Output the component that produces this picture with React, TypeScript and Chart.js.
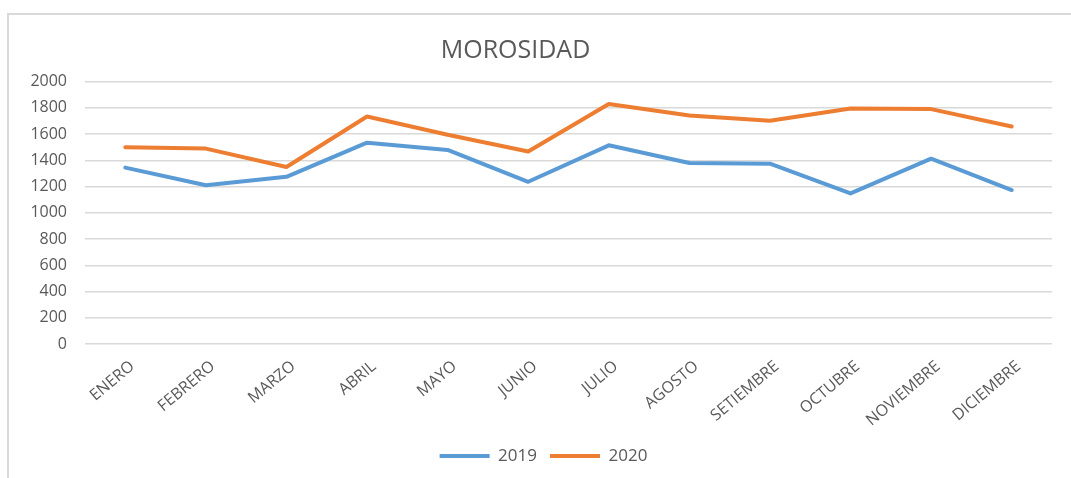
import React, { useEffect, useRef } from "react";
import { Chart, registerables } from "chart.js";

Chart.register(...registerables);

const categories = [
  "ENERO", "FEBRERO", "MARZO", "ABRIL", "MAYO", "JUNIO",
  "JULIO", "AGOSTO", "SETIEMBRE", "OCTUBRE", "NOVIEMBRE", "DICIEMBRE",
];
const values2019 = [1345, 1210, 1275, 1535, 1480, 1237, 1515, 1380, 1375, 1148, 1413, 1174];
const values2020 = [1500, 1490, 1350, 1735, 1595, 1468, 1830, 1742, 1702, 1796, 1791, 1659];
const seriesNames = ["2019", "2020"];
const yMin = 0;
const yMax = 2000;
const yStep = 200;
const titleText = "MOROSIDAD";

const TEXT_COLOR = "#595959";
const GRID_COLOR = "#d9d9d9";
const BLUE = "#5B9BD5";
const ORANGE = "#ED7D31";

const CANVAS_W = 1062;
const CANVAS_H = 463;
const TITLE_SHIFT = -15;
const LEGEND_SHIFT = 13;

const shiftPlugin = {
  id: "shiftBlocks",
  afterLayout(chart: any) {
    const t = chart.titleBlock;
    if (t) {
      t.left += TITLE_SHIFT;
      t.right += TITLE_SHIFT;
    }
    const l = chart.legend;
    if (l) {
      l.left += LEGEND_SHIFT;
      l.right += LEGEND_SHIFT;
    }
  },
};

export default function App() {
  const ref = useRef<HTMLCanvasElement | null>(null);

  useEffect(() => {
    if (!ref.current) return;
    Chart.defaults.font.family = "'Open Sans', sans-serif";
    const chart = new Chart(ref.current, {
      type: "line",
      data: {
        labels: categories,
        datasets: [
          {
            label: seriesNames[0],
            data: values2019,
            borderColor: BLUE,
            backgroundColor: BLUE,
            borderWidth: 4,
            pointRadius: 0,
            tension: 0,
            borderCapStyle: "round",
            borderJoinStyle: "round",
          },
          {
            label: seriesNames[1],
            data: values2020,
            borderColor: ORANGE,
            backgroundColor: ORANGE,
            borderWidth: 4,
            pointRadius: 0,
            tension: 0,
            borderCapStyle: "round",
            borderJoinStyle: "round",
          },
        ],
      },
      options: {
        responsive: false,
        animation: false,
        layout: { padding: { left: 0, right: 19, top: 0, bottom: 3.5 } },
        plugins: {
          title: {
            display: true,
            text: titleText,
            color: TEXT_COLOR,
            font: { size: 25, weight: "normal" },
            padding: { top: 21.3, bottom: 15.4 },
          },
          legend: {
            position: "bottom",
            labels: {
              usePointStyle: true,
              pointStyle: "line",
              pointStyleWidth: 50,
              color: TEXT_COLOR,
              font: { size: 17 },
              padding: 13,
            },
          },
          tooltip: { enabled: false },
        },
        scales: {
          x: {
            offset: true,
            grid: { display: false, drawTicks: false },
            border: { display: false },
            ticks: {
              autoSkip: false,
              minRotation: 40,
              maxRotation: 40,
              color: TEXT_COLOR,
              font: { size: 16 },
              padding: 13,
              labelOffset: 7,
            },
            afterFit(scale: any) {
              scale.height = 90.5;
            },
          },
          y: {
            min: yMin,
            max: yMax,
            grid: { color: GRID_COLOR, lineWidth: 1.5, drawTicks: false },
            border: { display: false },
            ticks: {
              stepSize: yStep,
              color: TEXT_COLOR,
              font: { size: 16 },
              padding: 18,
              callback: (v: any) => String(v),
            },
            afterFit(scale: any) {
              scale.width = 76;
            },
          },
        },
      },
      plugins: [shiftPlugin],
    });
    return () => chart.destroy();
  }, []);

  return (
    <div
      style={{
        position: "fixed",
        left: 7,
        top: 13,
        width: 1100,
        height: 500,
        border: "2px solid #d9d9d9",
        boxSizing: "border-box",
        background: "#ffffff",
      }}
    >
      <canvas
        ref={ref}
        width={CANVAS_W}
        height={CANVAS_H}
        style={{ display: "block", width: CANVAS_W, height: CANVAS_H }}
      />
    </div>
  );
}
